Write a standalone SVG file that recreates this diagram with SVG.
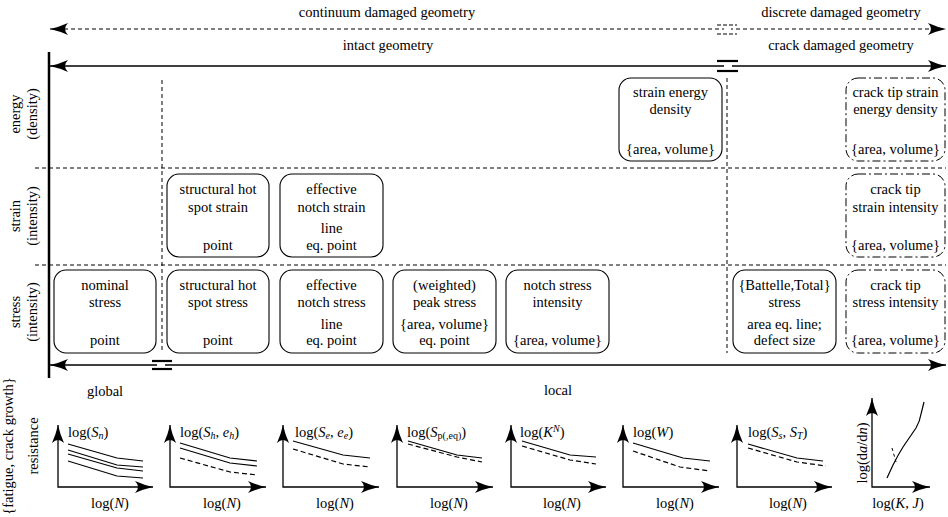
<svg xmlns="http://www.w3.org/2000/svg" width="948" height="517" viewBox="0 0 948 517" font-family="Liberation Serif, Times New Roman, serif" font-size="14">
<style>
text{font-family:'Liberation Serif','Times New Roman',serif;font-size:14.5px;fill:#000}
.c{text-anchor:middle}
.box{fill:#fff;stroke:#000;stroke-width:1.1}
.dd{fill:#fff;stroke:#000;stroke-width:1;stroke-dasharray:8,3,2,3}
.sep{stroke:#000;stroke-width:1;stroke-dasharray:4,3;fill:none}
.ax{stroke:#000;stroke-width:1.3;fill:none}
.cv{stroke:#000;stroke-width:1.2;fill:none}
.cvd{stroke:#000;stroke-width:1.2;fill:none;stroke-dasharray:5,3}
.brk{stroke:#000;stroke-width:2.2}
.i{font-style:italic}
</style>
<defs>
<marker id="ah" markerUnits="userSpaceOnUse" markerWidth="1" markerHeight="1" refX="0" refY="0" orient="auto-start-reverse" overflow="visible">
<path d="M0,0 Q-9,-2 -18,-6 Q-12,0 -18,6 Q-9,2 0,0 Z" fill="#000"/>
</marker>
</defs>

<g id="headers">
<text class="c" x="387" y="17">continuum damaged geometry</text>
<text class="c" x="841" y="17">discrete damaged geometry</text>
<text class="c" x="388" y="50">intact geometry</text>
<text class="c" x="841" y="50">crack damaged geometry</text>
<text class="c" x="105" y="396">global</text>
<text class="c" x="558" y="395">local</text>
</g>

<g id="axis-labels">
<text class="c" transform="translate(20,114) rotate(-90)">energy<tspan x="0" dy="17">(density)</tspan></text>
<text class="c" transform="translate(20,216) rotate(-90)">strain<tspan x="0" dy="17">(intensity)</tspan></text>
<text class="c" transform="translate(20,312) rotate(-90)">stress<tspan x="0" dy="17">(intensity)</tspan></text>
<text class="c" transform="translate(13,446) rotate(-90)">{fatigue, crack growth}<tspan x="0" dy="25">resistance</tspan></text>
</g>

<g id="connectors">
<line class="sep" x1="35" y1="168" x2="946" y2="168"/>
<line class="sep" x1="35" y1="265" x2="946" y2="265"/>
<line class="sep" x1="162" y1="80" x2="162" y2="353"/>
<line class="sep" x1="727" y1="78" x2="727" y2="353"/>
<line x1="50" y1="29" x2="946" y2="29" stroke="#000" stroke-width="1.1" stroke-dasharray="4,3" marker-start="url(#ah)" marker-end="url(#ah)"/>
<line x1="50" y1="66" x2="946" y2="66" stroke="#000" stroke-width="1.3" marker-start="url(#ah)" marker-end="url(#ah)"/>
<line x1="50" y1="365" x2="946" y2="365" stroke="#000" stroke-width="1.3" marker-start="url(#ah)" marker-end="url(#ah)"/>
<line x1="49" y1="52" x2="49" y2="378" stroke="#000" stroke-width="2.5"/>
<rect x="724" y="26" width="7" height="6" fill="#fff"/>
<line x1="717" y1="25" x2="737" y2="25" stroke="#000" stroke-width="1" stroke-dasharray="4,2"/>
<line x1="717" y1="34" x2="737" y2="34" stroke="#000" stroke-width="1" stroke-dasharray="4,2"/>
<rect x="724" y="63" width="8" height="6" fill="#fff"/>
<line class="brk" x1="717" y1="61" x2="738" y2="61"/>
<line class="brk" x1="717" y1="71" x2="738" y2="71"/>
<rect x="157" y="362" width="8" height="6" fill="#fff"/>
<line class="brk" x1="152" y1="361" x2="172" y2="361"/>
<line class="brk" x1="152" y1="369" x2="172" y2="369"/>
</g>

<g id="n-strain-energy-density">
<rect class="box" x="619" y="78" width="103" height="83" rx="12"/>
<text class="c" x="670.5" y="97">strain energy</text>
<text class="c" x="670.5" y="114">density</text>
<text class="c" x="670.5" y="154">{area, volume}</text>
</g>
<g id="n-crack-tip-sed">
<rect class="dd" x="846" y="78" width="99" height="83" rx="12"/>
<text class="c" x="895.5" y="97">crack tip strain</text>
<text class="c" x="895.5" y="114">energy density</text>
<text class="c" x="895.5" y="154">{area, volume}</text>
</g>

<g id="n-hot-spot-strain">
<rect class="box" x="167" y="174" width="102" height="83" rx="12"/>
<text class="c" x="218" y="194">structural hot</text>
<text class="c" x="218" y="212">spot strain</text>
<text class="c" x="218" y="250">point</text>
</g>
<g id="n-eff-notch-strain">
<rect class="box" x="280" y="174" width="103" height="83" rx="12"/>
<text class="c" x="331.5" y="194">effective</text>
<text class="c" x="331.5" y="212">notch strain</text>
<text class="c" x="331.5" y="233">line</text>
<text class="c" x="331.5" y="250">eq. point</text>
</g>
<g id="n-crack-tip-strain">
<rect class="dd" x="846" y="174" width="99" height="83" rx="12"/>
<text class="c" x="895.5" y="194">crack tip</text>
<text class="c" x="895.5" y="212">strain intensity</text>
<text class="c" x="895.5" y="250">{area, volume}</text>
</g>

<g id="n-nominal">
<rect class="box" x="54" y="270" width="102" height="83" rx="12"/>
<text class="c" x="105" y="290">nominal</text>
<text class="c" x="105" y="307">stress</text>
<text class="c" x="105" y="345">point</text>
</g>
<g id="n-hot-spot-stress">
<rect class="box" x="167" y="270" width="102" height="83" rx="12"/>
<text class="c" x="218" y="290">structural hot</text>
<text class="c" x="218" y="307">spot stress</text>
<text class="c" x="218" y="345">point</text>
</g>
<g id="n-eff-notch-stress">
<rect class="box" x="280" y="270" width="103" height="83" rx="12"/>
<text class="c" x="331.5" y="290">effective</text>
<text class="c" x="331.5" y="307">notch stress</text>
<text class="c" x="331.5" y="329">line</text>
<text class="c" x="331.5" y="345">eq. point</text>
</g>
<g id="n-peak-stress">
<rect class="box" x="393" y="270" width="103" height="83" rx="12"/>
<text class="c" x="444.5" y="290">(weighted)</text>
<text class="c" x="444.5" y="307">peak stress</text>
<text class="c" x="444.5" y="329">{area, volume}</text>
<text class="c" x="444.5" y="345">eq. point</text>
</g>
<g id="n-notch-stress-intensity">
<rect class="box" x="506" y="270" width="103" height="83" rx="12"/>
<text class="c" x="557.5" y="290">notch stress</text>
<text class="c" x="557.5" y="307">intensity</text>
<text class="c" x="557.5" y="345">{area, volume}</text>
</g>
<g id="n-battelle">
<rect class="box" x="733" y="270" width="103" height="83" rx="12"/>
<text class="c" x="784.5" y="290">{Battelle,Total}</text>
<text class="c" x="784.5" y="307">stress</text>
<text class="c" x="784.5" y="329">area eq. line;</text>
<text class="c" x="784.5" y="345">defect size</text>
</g>
<g id="n-crack-tip-stress">
<rect class="dd" x="846" y="270" width="99" height="83" rx="12"/>
<text class="c" x="895.5" y="290">crack tip</text>
<text class="c" x="895.5" y="307">stress intensity</text>
<text class="c" x="895.5" y="345">{area, volume}</text>
</g>

<g id="chart-1">
<polyline class="ax" points="58,425 58,487 153,487" marker-start="url(#ah)" marker-end="url(#ah)"/>
<text x="68" y="437">log(<tspan class="i">S</tspan><tspan class="i" font-size="10" dy="2">n</tspan><tspan dy="-2">)</tspan></text>
<polyline class="cv" points="68,444 117,458 143,461"/>
<polyline class="cv" points="68,450 117,465 143,467"/>
<polyline class="cv" points="68,454 117,468 143,471"/>
<polyline class="cv" points="68,461 117,476 143,478"/>
<text class="c" x="110" y="508">log(<tspan class="i">N</tspan>)</text>
</g>
<g id="chart-2">
<polyline class="ax" points="170,425 170,487 266,487" marker-start="url(#ah)" marker-end="url(#ah)"/>
<text x="180" y="437">log(<tspan class="i">S</tspan><tspan class="i" font-size="10" dy="2">h</tspan><tspan dy="-2">, </tspan><tspan class="i">e</tspan><tspan class="i" font-size="10" dy="2">h</tspan><tspan dy="-2">)</tspan></text>
<polyline class="cv" points="180,443 230,458 257,461"/>
<polyline class="cv" points="180,448 230,463 257,466"/>
<polyline class="cvd" points="180,458 230,472 257,475"/>
<text class="c" x="222" y="508">log(<tspan class="i">N</tspan>)</text>
</g>
<g id="chart-3">
<polyline class="ax" points="283,425 283,487 379,487" marker-start="url(#ah)" marker-end="url(#ah)"/>
<text x="295" y="437">log(<tspan class="i">S</tspan><tspan class="i" font-size="10" dy="2">e</tspan><tspan dy="-2">, </tspan><tspan class="i">e</tspan><tspan class="i" font-size="10" dy="2">e</tspan><tspan dy="-2">)</tspan></text>
<polyline class="cv" points="293,441 343,455 370,458"/>
<polyline class="cvd" points="293,449 343,464 370,467"/>
<text class="c" x="335" y="508">log(<tspan class="i">N</tspan>)</text>
</g>
<g id="chart-4">
<polyline class="ax" points="397,425 397,487 493,487" marker-start="url(#ah)" marker-end="url(#ah)"/>
<text x="407" y="437">log(<tspan class="i">S</tspan><tspan font-size="10" dy="2">p(,eq)</tspan><tspan dy="-2">)</tspan></text>
<polyline class="cv" points="408,441 457,455 482,458"/>
<polyline class="cvd" points="408,444 457,457 482,462"/>
<text class="c" x="449" y="508">log(<tspan class="i">N</tspan>)</text>
</g>
<g id="chart-5">
<polyline class="ax" points="511,425 511,487 606,487" marker-start="url(#ah)" marker-end="url(#ah)"/>
<text x="520" y="437">log(<tspan class="i">K</tspan><tspan class="i" font-size="10" dy="-5">N</tspan><tspan dy="5">)</tspan></text>
<polyline class="cv" points="522,441 570,455 596,457"/>
<polyline class="cvd" points="522,446 570,460 596,464"/>
<text class="c" x="562" y="508">log(<tspan class="i">N</tspan>)</text>
</g>
<g id="chart-6">
<polyline class="ax" points="623,425 623,487 719,487" marker-start="url(#ah)" marker-end="url(#ah)"/>
<text x="633" y="437">log(<tspan class="i">W</tspan>)</text>
<polyline class="cv" points="633,443 683,458 710,461"/>
<polyline class="cvd" points="633,451 680,467 710,471"/>
<text class="c" x="675" y="508">log(<tspan class="i">N</tspan>)</text>
</g>
<g id="chart-7">
<polyline class="ax" points="737,425 737,487 832,487" marker-start="url(#ah)" marker-end="url(#ah)"/>
<text x="748" y="437">log(<tspan class="i">S</tspan><tspan class="i" font-size="10" dy="2">s</tspan><tspan dy="-2">, </tspan><tspan class="i">S</tspan><tspan class="i" font-size="10" dy="2">T</tspan><tspan dy="-2">)</tspan></text>
<polyline class="cv" points="748,444 797,458 823,461"/>
<polyline class="cvd" points="748,448 797,462 826,466"/>
<text class="c" x="788" y="508">log(<tspan class="i">N</tspan>)</text>
</g>
<g id="chart-8">
<polyline class="ax" points="872,398 872,487 930,487" marker-start="url(#ah)" marker-end="url(#ah)"/>
<text class="c" transform="translate(867,453) rotate(-90)">log(d<tspan class="i">a</tspan>/d<tspan class="i">n</tspan>)</text>
<path class="cv" d="M887,478 L893,465 Q898,455 903,447 L916,428 Q920,421 921,414 L924,402"/>
<line x1="892" y1="448" x2="896" y2="462" stroke="#000" stroke-width="1" stroke-dasharray="3,3"/>
<text class="c" x="898" y="508">log(<tspan class="i">K</tspan>, <tspan class="i">J</tspan>)</text>
</g>
</svg>
